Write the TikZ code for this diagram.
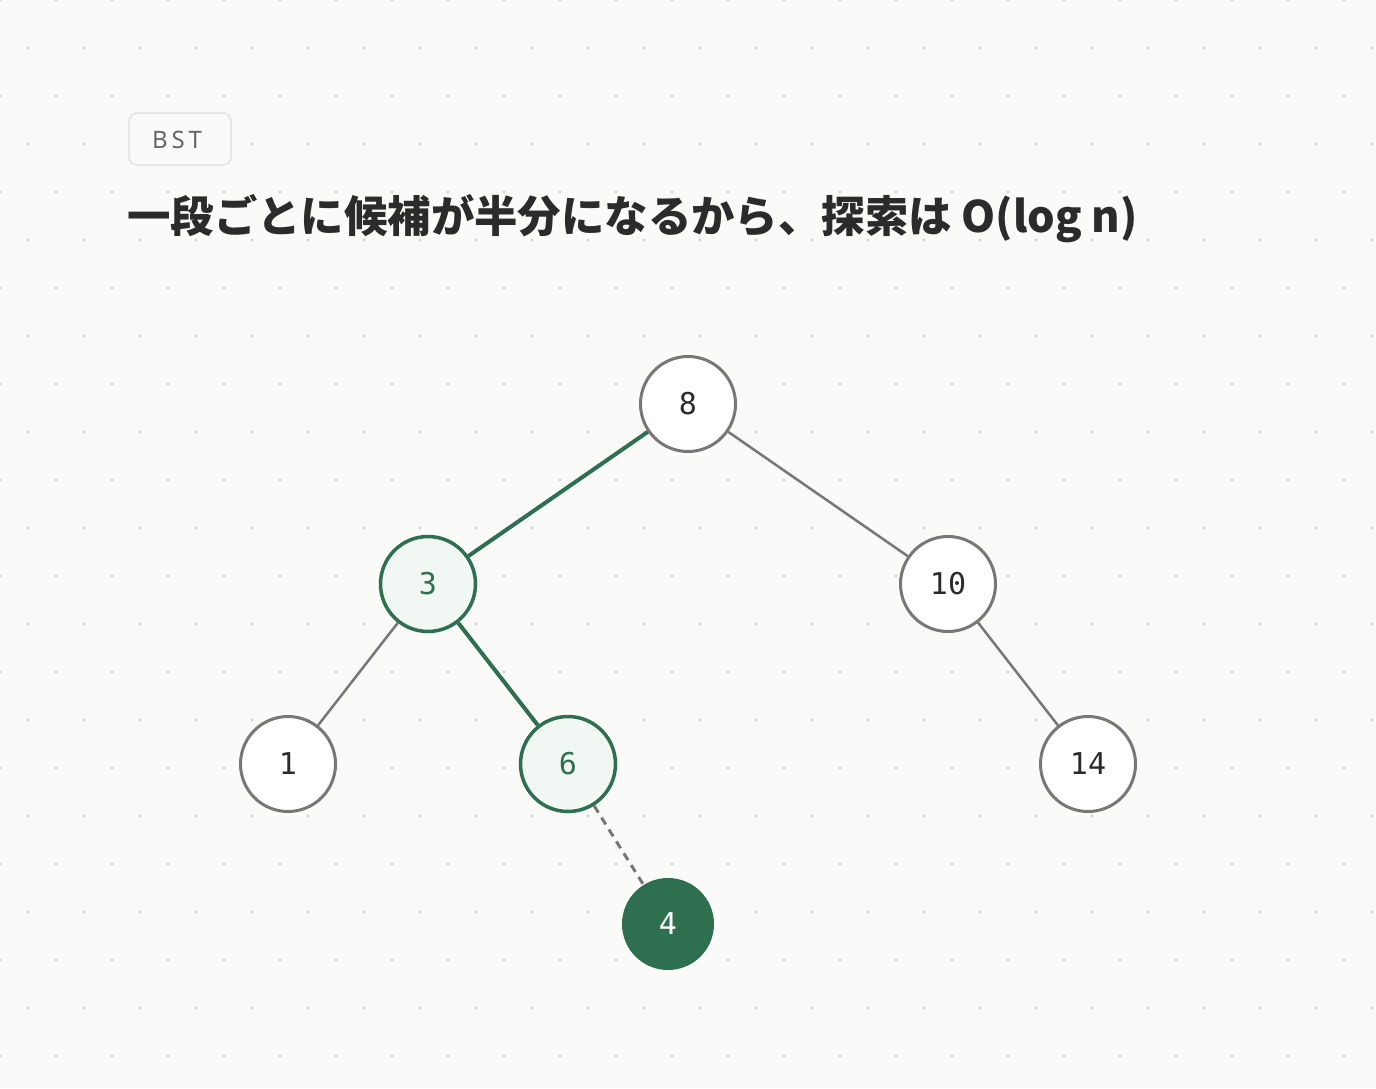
\documentclass[tikz,border=0pt]{standalone}
\usepackage{fontspec}
\newfontfamily\jpfont{Noto Sans CJK JP}
\newfontfamily\monofont{DejaVu Sans Mono}
\newfontfamily\tagfont{Noto Sans}[LetterSpace=16]
\definecolor{bg}{HTML}{FAFAF9}
\definecolor{dotc}{HTML}{D2D2D2}
\definecolor{grn}{HTML}{2E6F50}
\definecolor{gry}{HTML}{777777}
\definecolor{gfill}{HTML}{F1F7F3}
\definecolor{ink}{HTML}{2B2B2B}
\definecolor{tagline}{HTML}{E2E2E2}
\definecolor{tagtext}{HTML}{666666}
\tikzset{
  bnode/.style={circle, draw=gry, line width=3pt, fill=white, minimum size=95pt, inner sep=0pt,
    font=\monofont\fontsize{30}{36}\selectfont, text=ink},
  hnode/.style={bnode, draw=grn, fill=gfill, text=grn, line width=3.5pt},
  tnode/.style={bnode, draw=none, fill=grn, text=white, minimum size=92pt},
  gedge/.style={draw=gry, line width=2.5pt},
  hedge/.style={draw=grn, line width=4pt},
  dedge/.style={draw=gry, line width=3pt, dash pattern=on 8pt off 6pt},
}
\begin{document}
\begin{tikzpicture}[x=1pt,y=-1pt]
\useasboundingbox (0,0) rectangle (1376,1088);
\fill[bg] (0,0) rectangle (1376,1088);
\foreach \r in {0,...,22}{
  \pgfmathtruncatemacro\odd{mod(\r,2)}
  \foreach \c in {0,...,24}{
    \fill[dotc] ({56*\c+28*\odd},{48*\r}) circle (1.6);
  }
}
% tag
\draw[tagline, line width=1.5pt, fill=bg, rounded corners=8pt] (129,113) rectangle (231,165);
\node[anchor=base west, inner sep=0pt, text=tagtext, font=\tagfont\fontsize{24}{28}\selectfont] (tag) at (152,148) {BST};
% title
\node[anchor=base west, inner sep=0pt, text=ink, font=\jpfont\bfseries\fontsize{43.4}{52}\selectfont] (title) at (127,232) {一段ごとに候補が半分になるから、探索は O(log n)};
% nodes
\node[bnode] (n8) at (688,404) {8};
\node[hnode] (n3) at (428,584) {3};
\node[bnode] (n10) at (948,584) {10};
\node[bnode] (n1) at (288,764) {1};
\node[hnode] (n6) at (568,764) {6};
\node[bnode] (n14) at (1088,764) {14};
\node[tnode] (n4) at (668,924) {4};
% edges
\draw[hedge] (n8) -- (n3);
\draw[gedge] (n8) -- (n10);
\draw[gedge] (n3) -- (n1);
\draw[hedge] (n3) -- (n6);
\draw[gedge] (n10) -- (n14);
\draw[dedge] (n6) -- (n4);
\end{tikzpicture}
\end{document}
